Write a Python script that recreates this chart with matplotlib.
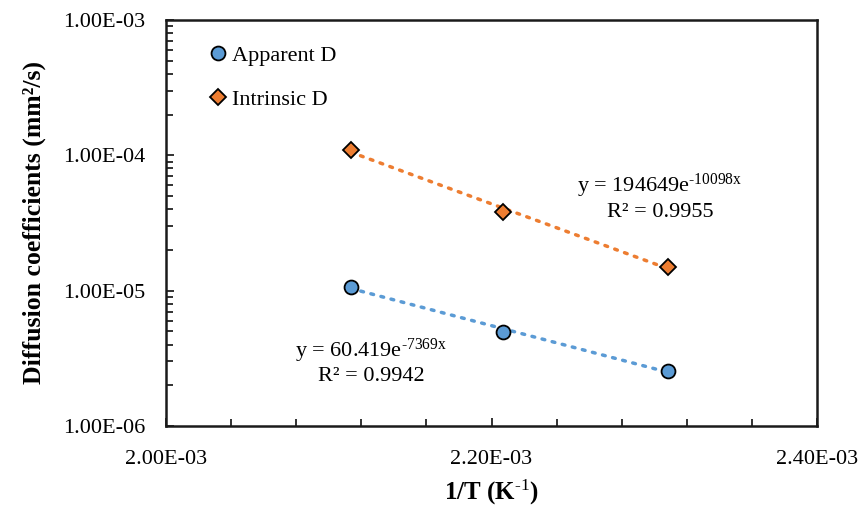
import numpy as np
import matplotlib
matplotlib.use("Agg")
import matplotlib.pyplot as plt
from matplotlib.ticker import FixedLocator, FuncFormatter, LogLocator, NullFormatter

plt.rcParams['font.family'] = ['Liberation Serif', 'DejaVu Serif']
plt.rcParams['mathtext.fontset'] = 'custom'
plt.rcParams['mathtext.rm'] = 'Liberation Serif'
plt.rcParams['mathtext.it'] = 'Liberation Serif:italic'
plt.rcParams['mathtext.bf'] = 'Liberation Serif:bold'

# data (1/T in K^-1, D in mm2/s)
inv_T = [2.1135e-3, 2.2068e-3, 2.3087e-3]
apparent_D = [1.07e-5, 4.95e-6, 2.56e-6]
intrinsic_D = [1.095e-4, 3.81e-5, 1.50e-5]
series_names = ["Apparent D", "Intrinsic D"]
eq_apparent = "y = 60.419e$^{\\text{-7369x}}$\nR² = 0.9942"
eq_intrinsic = "y = 194649e$^{\\text{-10098x}}$\nR² = 0.9955"

blue = '#5B9BD5'
orange = '#ED7D31'

fig = plt.figure(figsize=(8.62, 5.08), dpi=100)
ax = fig.add_axes([166/862, 1-426/508, (817-166)/862, (426-20)/508])

x = np.array(inv_T)


def trend(y):
    k, b = np.polyfit(x, np.log(y), 1)
    xx = np.linspace(x.min(), x.max(), 50)
    return xx, np.exp(b + k*xx)


for yv, col in [(apparent_D, blue), (intrinsic_D, orange)]:
    xx, yy = trend(yv)
    ax.plot(xx, yy, color=col, lw=2.5, ls=(0, (0.8, 2.2)), dash_capstyle='round', zorder=2)

ax.plot(x, apparent_D, 'o', ms=10, mfc=blue, mec='black', mew=1.3, ls='none', label=series_names[0], zorder=3)
ax.plot(x, intrinsic_D, 'D', ms=8, mfc=orange, mec='black', mew=1.3, ls='none', label=series_names[1], zorder=3)

ax.set_yscale('log')
ax.set_xlim(2.0e-3, 2.4e-3)
ax.set_ylim(1e-6, 1e-3)

ax.xaxis.set_major_locator(FixedLocator([2.0e-3, 2.2e-3, 2.4e-3]))
ax.xaxis.set_minor_locator(FixedLocator(np.arange(2.0e-3, 2.4001e-3, 0.04e-3)))
ax.yaxis.set_major_locator(LogLocator(base=10, numticks=10))
ax.yaxis.set_minor_locator(LogLocator(base=10, subs=np.arange(2, 10), numticks=20))
ax.yaxis.set_minor_formatter(NullFormatter())
fmt = FuncFormatter(lambda v, p: f"{v:.2E}")
ax.xaxis.set_major_formatter(fmt)
ax.yaxis.set_major_formatter(fmt)

ax.tick_params(which='both', direction='in', labelsize=16, width=1.3, color='#222222')
ax.tick_params(axis='x', which='major', length=6, pad=17)
ax.tick_params(axis='x', which='minor', length=5)
ax.tick_params(axis='y', which='major', length=6, pad=15)
ax.tick_params(axis='y', which='minor', length=5)
for s in ax.spines.values():
    s.set_linewidth(1.8)
    s.set_color('#1a1a1a')

ax.set_xlabel("1/T (K$^{\\mathbf{\\text{-1}}}$)", fontsize=18, fontweight='bold', labelpad=7)
ax.set_ylabel("Diffusion coefficients (mm²/s)", fontsize=18.5, fontweight='bold', labelpad=12)

ax.text(0.759, 0.565, eq_intrinsic, transform=ax.transAxes, ha='center', va='center',
        multialignment='center', fontsize=16)
ax.text(0.315, 0.159, eq_apparent, transform=ax.transAxes, ha='center', va='center',
        multialignment='center', fontsize=16)

ax.legend(loc='upper left', bbox_to_anchor=(0.046, 0.96), frameon=False, fontsize=16,
          handletextpad=0.0, handlelength=1.2, labelspacing=1.07, borderaxespad=0)

fig.savefig('out.png', dpi=100)
